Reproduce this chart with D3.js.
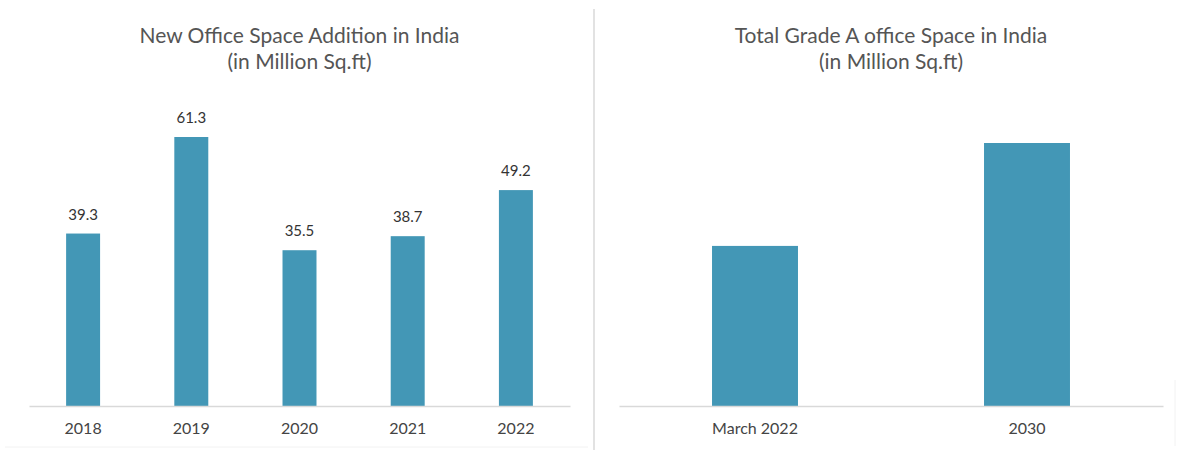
<!DOCTYPE html>
<html>
<head>
<meta charset="utf-8">
<script src="https://cdn.jsdelivr.net/npm/d3@7/dist/d3.min.js"></script>
<style>
  html, body { margin: 0; padding: 0; background: #fff; }
  svg { display: block; }
  text { font-family: Lato, "Open Sans", sans-serif; }
</style>
</head>
<body>
<svg id="chart" width="1178" height="450"></svg>
<script>
// Left chart data
const yearsLeft = ["2018", "2019", "2020", "2021", "2022"];
const valuesLeft = [39.3, 61.3, 35.5, 38.7, 49.2];
const titleLeft = ["New Office Space Addition in India", "(in Million Sq.ft)"];

// Right chart data (no value labels in the original; estimated)
const catsRight = ["March 2022", "2030"];
const valuesRight = [700, 1150];
const titleRight = ["Total Grade A office Space in India", "(in Million Sq.ft)"];

const barColor = "#4397b6";
const svg = d3.select("#chart");

// separator
svg.append("line").attr("x1", 594).attr("x2", 594).attr("y1", 9).attr("y2", 450)
  .attr("stroke", "#e2e2e2").attr("stroke-width", 2);
svg.append("line").attr("x1", 1175).attr("x2", 1175).attr("y1", 380).attr("y2", 446)
  .attr("stroke", "#f2f2f2").attr("stroke-width", 1);
svg.append("line").attr("x1", 5).attr("x2", 588).attr("y1", 447).attr("y2", 447)
  .attr("stroke", "#f2f2f2").attr("stroke-width", 1);

function drawPanel(cfg) {
  const g = svg.append("g");
  const x = d3.scaleBand().domain(cfg.cats).range(cfg.xRange)
    .paddingInner(cfg.pad).paddingOuter(cfg.pad / 2);
  const y = d3.scaleLinear().domain([0, cfg.maxVal]).range([cfg.base, cfg.top]);

  // title
  const cx = (cfg.xRange[0] + cfg.xRange[1]) / 2;
  g.selectAll("text.title").data(cfg.title).join("text")
    .attr("class", "title")
    .attr("x", cx).attr("y", (d, i) => 43 + i * 26)
    .attr("text-anchor", "middle")
    .attr("font-size", 21).attr("fill", "#555")
    .text(d => d);

  // bars
  g.selectAll("rect.bar").data(cfg.values).join("rect")
    .attr("class", "bar")
    .attr("x", (d, i) => x(cfg.cats[i]))
    .attr("width", x.bandwidth())
    .attr("y", d => y(d))
    .attr("height", d => cfg.base - y(d))
    .attr("fill", barColor);

  // value labels
  if (cfg.showLabels) {
    g.selectAll("text.val").data(cfg.values).join("text")
      .attr("class", "val")
      .attr("x", (d, i) => x(cfg.cats[i]) + x.bandwidth() / 2)
      .attr("y", d => y(d) - 14)
      .attr("text-anchor", "middle")
      .attr("font-size", 15).attr("fill", "#333")
      .text(d => d.toFixed(1));
  }

  // axis
  const ax = g.append("g").attr("transform", `translate(0,${cfg.base})`)
    .call(d3.axisBottom(x).tickSize(0).tickPadding(17));
  ax.select(".domain").attr("stroke", "#d9d9d9").attr("stroke-width", 1.5);
  ax.selectAll("text").attr("font-size", 16).attr("fill", "#444")
    .style("font-family", "Lato, 'Open Sans', sans-serif");
}

drawPanel({
  cats: yearsLeft, values: valuesLeft, title: titleLeft,
  xRange: [29, 570], pad: 0.686, base: 406, top: 137, maxVal: 61.3, showLabels: true
});
drawPanel({
  cats: catsRight, values: valuesRight, title: titleRight,
  xRange: [619, 1163], pad: 0.684, base: 406, top: 143, maxVal: 1150, showLabels: false
});
</script>
</body>
</html>
